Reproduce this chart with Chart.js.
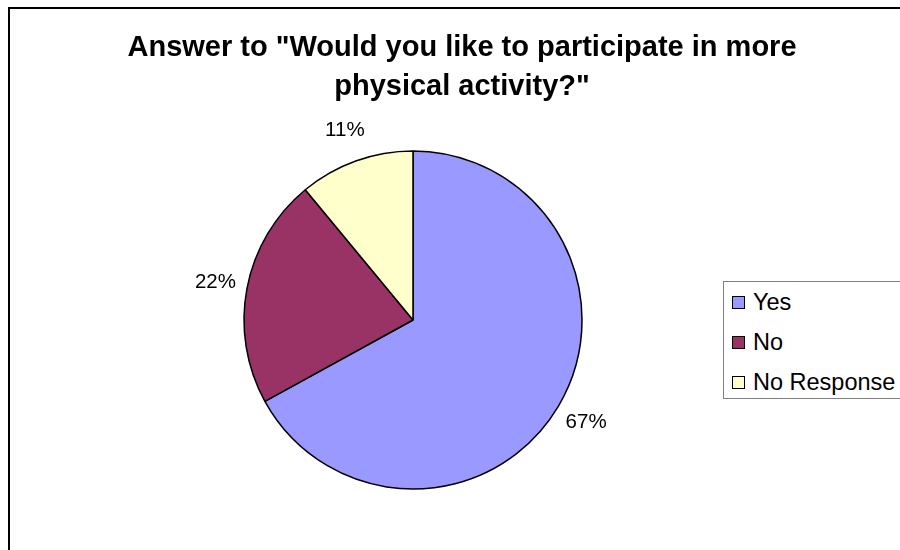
<!DOCTYPE html>
<html>
<head>
<meta charset="utf-8">
<title>Physical activity answers</title>
<script src="https://cdn.jsdelivr.net/npm/chart.js@4"></script>
<style>
    body { margin: 0; background: #fff; font-family: "Liberation Sans", Arial, sans-serif; }
    #wrap { position: relative; width: 900px; height: 550px; overflow: hidden; }
    #frame { position: absolute; left: 8px; top: 7px; width: 1000px; height: 700px; border: 2px solid #000; }
    #title {
        position: absolute; left: 0; top: 27px; width: 924px;
        text-align: center; font-weight: bold; font-size: 29px; line-height: 39px; color: #000;
    }
    #pieChart { position: absolute; left: 0; top: 0; }
    #legend {
        position: absolute; left: 723px; top: 281px; width: 220px; height: 116px;
        border: 1px solid #808080; background: #fff;
    }
    .item { position: absolute; left: 8px; height: 24px; font-size: 23.5px; line-height: 24px; white-space: nowrap; }
    .item span.box {
        display: inline-block; width: 11px; height: 11px; border: 1px solid #000;
        margin-right: 8px; vertical-align: 1px;
    }
</style>
</head>
<body>
<div id="wrap">
    <div id="frame"></div>
    <canvas id="pieChart" width="900" height="550"></canvas>
    <div id="title">Answer to "Would you like to participate in more<br>physical activity?"</div>
    <div id="legend"></div>
</div>

<script>
// --- данные ---
const labels = ["Yes", "No", "No Response"];
const values = [67, 22, 11];
const colors = ["#9999FF", "#993366", "#FFFFCC"];

// --- легенда (HTML, справа) ---
const legend = document.getElementById("legend");
labels.forEach((name, i) => {
    const row = document.createElement("div");
    row.className = "item";
    row.style.top = (8 + i * 40) + "px";
    row.innerHTML = `<span class="box" style="background:${colors[i]}"></span>${name}`;
    legend.appendChild(row);
});

// --- подписи процентов снаружи круга ---
const outsideLabels = {
    id: "outsideLabels",
    afterDatasetsDraw(chart) {
        const ctx = chart.ctx;
        const meta = chart.getDatasetMeta(0);
        ctx.save();
        ctx.font = "20.5px 'Liberation Sans', Arial, sans-serif";
        ctx.fillStyle = "#000";
        ctx.textAlign = "center";
        ctx.textBaseline = "middle";
        meta.data.forEach((arc, i) => {
            const p = arc.getProps(["x", "y", "startAngle", "endAngle", "outerRadius"], true);
            const mid = (p.startAngle + p.endAngle) / 2;
            const r = p.outerRadius * 1.19;
            ctx.fillText(values[i] + "%", p.x + Math.cos(mid) * r, p.y + Math.sin(mid) * r);
        });
        ctx.restore();
    }
};

// --- круговая диаграмма ---
const ctx = document.getElementById("pieChart").getContext("2d");
new Chart(ctx, {
    type: "pie",
    data: {
        labels: labels,
        datasets: [{
            data: values,
            backgroundColor: colors,
            borderColor: "#000",
            borderWidth: 1.5
        }]
    },
    options: {
        responsive: false,
        animation: false,
        radius: 169,
        layout: { padding: { left: 243, right: 317, top: 150, bottom: 60 } },
        plugins: {
            legend: { display: false },
            title: { display: false },
            tooltip: { enabled: false }
        }
    },
    plugins: [outsideLabels]
});
</script>
</body>
</html>
